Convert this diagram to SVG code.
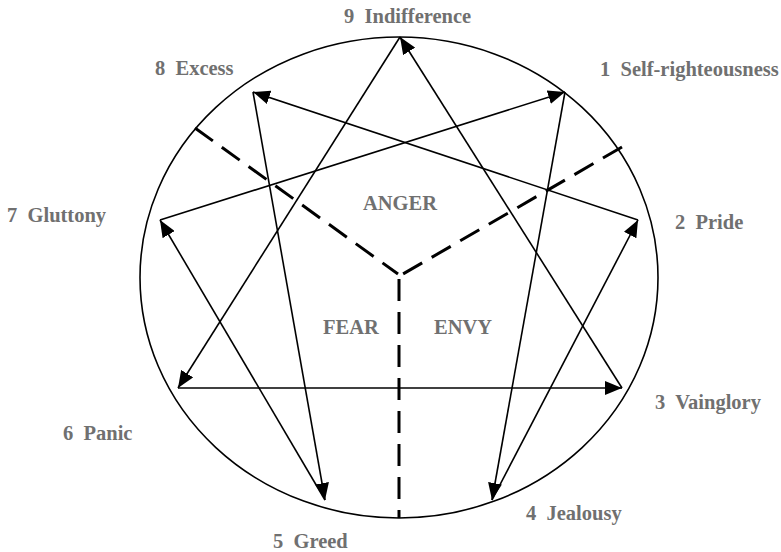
<svg xmlns="http://www.w3.org/2000/svg" width="781" height="552" viewBox="0 0 781 552">
<style>
.lbl{font-family:"Liberation Serif","Times New Roman",serif;font-weight:bold;font-size:20.5px;fill:#707070;white-space:pre}
.edge{stroke:#000;stroke-width:1.6;fill:none;marker-end:url(#ah)}
.dash{stroke:#000;stroke-width:3;fill:none;stroke-dasharray:22 11}
</style>
<defs>
<marker id="ah" markerUnits="userSpaceOnUse" markerWidth="18" markerHeight="14" refX="17" refY="7" orient="auto">
<path d="M0,0 L17,7 L0,14 z" fill="#000"/>
</marker>
</defs>
<rect width="781" height="552" fill="#fff"/>
<ellipse cx="399" cy="277.5" rx="259" ry="240.5" fill="none" stroke="#000" stroke-width="1.6"/>
<g id="dividers">
<line class="dash" x1="195" y1="128" x2="398" y2="274"/>
<line class="dash" x1="622" y1="147" x2="403" y2="274"/>
<line class="dash" x1="399" y1="279" x2="399" y2="518"/>
</g>
<g id="connectors">
<line class="edge" x1="565" y1="92" x2="492" y2="500"/>
<line class="edge" x1="492" y1="500" x2="638" y2="220"/>
<line class="edge" x1="638" y1="220" x2="253" y2="92"/>
<line class="edge" x1="253" y1="92" x2="325" y2="500"/>
<line class="edge" x1="325" y1="500" x2="160" y2="220"/>
<line class="edge" x1="160" y1="220" x2="565" y2="92"/>
<line class="edge" x1="400" y1="37" x2="178" y2="388"/>
<line class="edge" x1="178" y1="388" x2="622" y2="388"/>
<line class="edge" x1="622" y1="388" x2="400" y2="37"/>
</g>
<g id="n9"><text class="lbl" x="344" y="23">9  Indifference</text></g>
<g id="n1"><text class="lbl" x="600" y="76">1  Self-righteousness</text></g>
<g id="n8"><text class="lbl" x="155" y="75">8  Excess</text></g>
<g id="n7"><text class="lbl" x="7" y="222">7  Gluttony</text></g>
<g id="n2"><text class="lbl" x="675" y="229">2  Pride</text></g>
<g id="n6"><text class="lbl" x="63" y="440">6  Panic</text></g>
<g id="n3"><text class="lbl" x="655" y="409">3  Vainglory</text></g>
<g id="n4"><text class="lbl" x="526" y="520">4  Jealousy</text></g>
<g id="n5"><text class="lbl" x="273" y="548">5  Greed</text></g>
<g id="anger"><text class="lbl" x="363" y="210">ANGER</text></g>
<g id="fear"><text class="lbl" x="323" y="334">FEAR</text></g>
<g id="envy"><text class="lbl" x="434" y="334">ENVY</text></g>
</svg>
